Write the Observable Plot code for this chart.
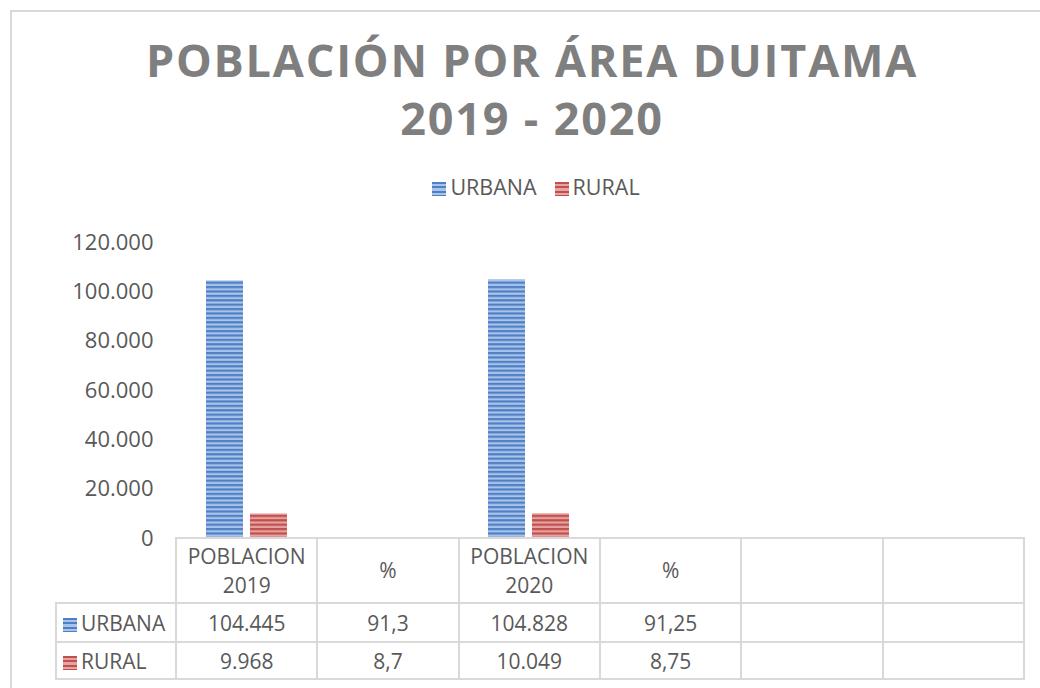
<!DOCTYPE html>
<html><head><meta charset="utf-8">
<script src="https://cdn.jsdelivr.net/npm/d3@7"></script>
<script src="https://cdn.jsdelivr.net/npm/@observablehq/plot@0.6"></script>
<style>
html,body{margin:0;padding:0;background:#fff;overflow:hidden;}
body{width:1040px;height:688px;position:relative;font-family:"Open Sans",sans-serif;color:#595959;}
#frame{position:absolute;left:10px;top:10px;width:1060px;height:700px;border:2px solid #d9d9d9;box-sizing:border-box;}
#title{position:absolute;left:12px;width:1040px;top:31px;text-align:center;font-weight:700;font-size:45px;letter-spacing:1.8px;color:#7f7f7f;line-height:58px;}
#legend{position:absolute;left:0;width:1072px;top:173px;text-align:center;font-size:21.5px;line-height:28px;}
#legend span.item{display:inline-block;margin:0 9px;}
.sw{display:inline-block;width:14px;height:14px;margin-right:4px;vertical-align:-1px;}
.sw.u{background:repeating-linear-gradient(to bottom,#4f7fc5 0 2px,#a9c3e9 2px 4.4px);}
.sw.r{background:repeating-linear-gradient(to bottom,#c0504d 0 2px,#e6a3a1 2px 4.4px);}
#chart{position:absolute;left:0;top:220px;}
#tbl{position:absolute;left:55px;top:537px;border-collapse:collapse;table-layout:fixed;font-size:21px;color:#595959;}
#tbl td{border:2px solid #d9d9d9;text-align:center;padding:0;}
#tbl td.corner{border-top:none;border-left:none;}
#tbl tr.h td{height:63px;line-height:29px;}
#tbl tr.u td{height:37px;}
#tbl tr.r td{height:35px;}
#tbl td.lab{text-align:left;padding-left:6px;}
</style>
</head><body>
<div id="frame"></div>
<div id="title">POBLACIÓN POR ÁREA DUITAMA<br>2019 - 2020</div>
<div id="legend"></div>
<div id="chart"></div>
<table id="tbl"></table>
<script>
// ---- data ----
const categories = ["POBLACION 2019", "% 2019", "POBLACION 2020", "% 2020", "col5", "col6"];
const headerLabels = ["POBLACION\n2019", "%", "POBLACION\n2020", "%", "", ""];
const series = ["URBANA", "RURAL"];
const urbana = [104445, 91.3, 104828, 91.25, null, null];
const rural = [9968, 8.7, 10049, 8.75, null, null];
const yTicks = [0, 20000, 40000, 60000, 80000, 100000, 120000];

const seriesValues = {URBANA: urbana, RURAL: rural};
const seriesClass = {URBANA: "u", RURAL: "r"};

const thousands = v => d3.format(",")(v).replace(/,/g, ".");
const fmtCell = v => v == null ? "" : (v >= 1000 ? thousands(v) : String(v).replace(".", ","));

const rows = [];
categories.forEach((c, i) => {
  series.forEach(s => {
    const v = seriesValues[s][i];
    if (v != null) rows.push({cat: c, serie: s, value: v});
  });
});

const chart = Plot.plot({
  width: 1040,
  height: 338,
  marginLeft: 175,
  marginRight: 17,
  marginTop: 22,
  marginBottom: 20,
  style: {fontFamily: "'Open Sans', sans-serif", fontSize: "22px", color: "#595959", background: "transparent"},
  fx: {domain: categories, padding: 0, axis: null},
  x: {domain: series, paddingInner: 0.156, paddingOuter: 0.65, axis: null},
  y: {domain: [0, 120000], ticks: yTicks, tickFormat: thousands, tickSize: 0, tickPadding: 23, label: null},
  color: {domain: series, range: ["url(#stripe-urbana)", "url(#stripe-rural)"]},
  marks: [
    Plot.barY(rows, {fx: "cat", x: "serie", y: "value", fill: "serie"})
  ]
});

d3.select(chart).insert("defs", ":first-child").html(`
  <pattern id="stripe-urbana" patternUnits="userSpaceOnUse" width="8" height="4.4">
    <rect width="8" height="4.4" fill="#a9c3e9"/><rect width="8" height="2.2" fill="#4f7fc5"/>
  </pattern>
  <pattern id="stripe-rural" patternUnits="userSpaceOnUse" width="8" height="4.4">
    <rect width="8" height="4.4" fill="#e6a3a1"/><rect width="8" height="2.2" fill="#c0504d"/>
  </pattern>`);
document.getElementById("chart").appendChild(chart);

// legend
document.getElementById("legend").innerHTML = series.map(s =>
  `<span class="item"><span class="sw ${seriesClass[s]}"></span>${s}</span>`).join("");

// data table
const colW = (1023 - 175) / categories.length;
let html = `<colgroup><col style="width:120px">${categories.map(() => `<col style="width:${colW}px">`).join("")}</colgroup>`;
html += `<tr class="h"><td class="corner"></td>${headerLabels.map(h => `<td>${h.replace("\n", "<br>")}</td>`).join("")}</tr>`;
series.forEach(s => {
  html += `<tr class="${seriesClass[s]}"><td class="lab"><span class="sw ${seriesClass[s]}"></span>${s}</td>${seriesValues[s].map(v => `<td>${fmtCell(v)}</td>`).join("")}</tr>`;
});
document.getElementById("tbl").innerHTML = html;
</script>
</body></html>
